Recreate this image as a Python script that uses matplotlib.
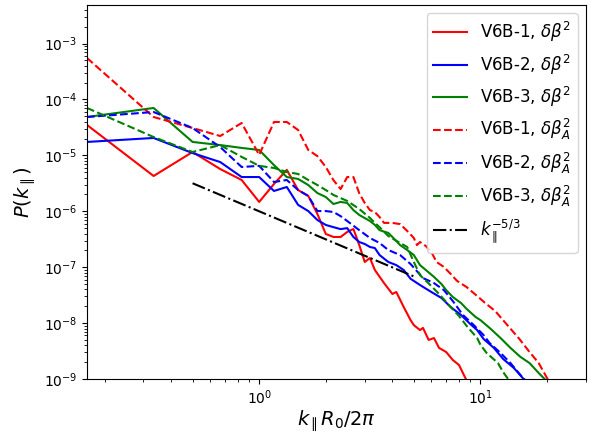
import matplotlib
matplotlib.use("Agg")
import matplotlib.pyplot as plt
import numpy as np

# wavenumber index m, with k_par R0 / 2pi = m / 6
K_UNIT = 1.0 / 6.0

# V6B-1, delta beta^2 (red solid)
m_rs = [1, 2, 3, 4, 5, 6, 7, 8, 9, 10, 11, 12, 13, 14, 15, 16, 17, 18, 19, 20,
        22, 24, 25, 27, 29, 30, 32, 33, 35, 37, 39, 42, 45, 48, 51, 54]
p_rs = [3.5e-5, 4.28e-6, 1.15e-5, 5.7e-6, 3.63e-6, 1.47e-6, 3.08e-6, 5.5e-6, 2.4e-6, 1.88e-6,
        8.95e-7, 3.93e-7, 3.47e-7, 3.47e-7, 4.27e-7, 4.82e-7, 2.49e-7, 1.24e-7, 1.46e-7, 8.9e-8,
        5.2e-8, 3.32e-8, 3.6e-8, 1.94e-8, 1.13e-8, 9.2e-9, 7.5e-9, 8.2e-9, 5.0e-9, 5.4e-9,
        3.6e-9, 3.04e-9, 2.19e-9, 1.78e-9, 1.09e-9, 7e-10]

# V6B-2, delta beta^2 (blue solid)
m_bs = [1, 2, 3, 4, 5, 6, 7, 8, 9, 10, 11, 12, 13, 14, 15, 16, 17, 18, 19, 20,
        21, 23, 25, 27, 29, 32, 36, 40, 44, 49, 54, 58, 62, 69, 76, 85, 94, 100]
p_bs = [1.74e-5, 2.05e-5, 1.1e-5, 7.6e-6, 4.1e-6, 4.1e-6, 2.31e-6, 2.72e-6, 1.3e-6, 1.01e-6,
        6.98e-7, 5.7e-7, 5.2e-7, 4.8e-7, 5.0e-7, 3.47e-7, 2.82e-7, 2.6e-7, 2.3e-7, 2.2e-7,
        1.65e-7, 1.24e-7, 1.09e-7, 8.9e-8, 6.2e-8, 4.8e-8, 3.6e-8, 2.81e-8, 1.94e-8, 1.4e-8,
        9.6e-9, 7.5e-9, 5.2e-9, 3.6e-9, 2.28e-9, 1.57e-9, 1.0e-9, 8e-10]

# V6B-3, delta beta^2 (green solid)
m_gs = [1, 2, 3, 4, 5, 6, 7, 8, 9, 10, 11, 12, 13, 14, 15, 16, 17, 19, 20, 21,
        23, 24, 26, 28, 30, 32, 34, 37, 40, 42, 45, 49, 52, 57, 60, 66, 74, 82, 91, 100,
        110, 117, 125]
p_gs = [4.86e-5, 7.05e-5, 1.74e-5, 1.53e-5, 1.36e-5, 1.25e-5, 6.7e-6, 4.1e-6, 3.79e-6, 2.95e-6,
        2.12e-6, 1.8e-6, 1.35e-6, 1.47e-6, 1.41e-6, 1.05e-6, 8.6e-7, 6.7e-7, 5.7e-7, 4.6e-7,
        4.1e-7, 3.47e-7, 2.49e-7, 2.03e-7, 1.65e-7, 1.09e-7, 8.9e-8, 6.7e-8, 5.0e-8, 3.9e-8,
        2.93e-8, 2.29e-8, 1.79e-8, 1.29e-8, 1.13e-8, 8.2e-9, 5.4e-9, 3.6e-9, 2.48e-9, 1.93e-9,
        1.28e-9, 1.0e-9, 7e-10]

# V6B-1, delta beta_A^2 (red dashed)
m_rd = [1, 2, 3, 4, 5, 6, 7, 8, 9, 10, 11, 12, 13, 14, 15, 16, 17, 18, 19, 20,
        21, 22, 24, 26, 28, 30, 31, 32, 34, 36, 38, 41, 44, 47, 52, 58, 63, 70, 80, 90,
        100, 110, 120, 130]
p_rd = [5.52e-4, 4.86e-5, 3.09e-5, 2.22e-5, 3.8e-5, 1.02e-5, 3.96e-5, 3.96e-5, 2.84e-5, 1.25e-5,
        9.7e-6, 6.2e-6, 3.6e-6, 2.5e-6, 4.1e-6, 4.1e-6, 2.1e-6, 1.41e-6, 1.05e-6, 9.7e-7,
        7.9e-7, 6.2e-7, 6.2e-7, 5.9e-7, 4.45e-7, 3.33e-7, 2.49e-7, 2.82e-7, 2.39e-7, 1.87e-7,
        1.24e-7, 1.01e-7, 7.6e-8, 5.7e-8, 4.4e-8, 3.05e-8, 2.29e-8, 1.64e-8, 8.9e-9, 5.2e-9,
        3.04e-9, 1.93e-9, 1.04e-9, 7e-10]

# V6B-2, delta beta_A^2 (blue dashed)
m_bd = [1, 2, 3, 4, 5, 6, 7, 8, 9, 10, 11, 12, 13, 14, 15, 17, 19, 21, 23, 26,
        29, 33, 37, 41, 45, 50, 56, 62, 66, 74, 82, 91, 100]
p_bd = [4.86e-5, 5.97e-5, 3.09e-5, 1.41e-5, 6.2e-6, 6.5e-6, 3.34e-6, 3.63e-6, 2.4e-6, 1.88e-6,
        1.01e-6, 1.01e-6, 9.7e-7, 8.2e-7, 6.7e-7, 4.6e-7, 3.33e-7, 2.71e-7, 2.03e-7, 1.65e-7,
        1.14e-7, 6.4e-8, 5.2e-8, 3.9e-8, 2.48e-8, 1.4e-8, 9.2e-9, 6.1e-9, 4.4e-9, 2.92e-9,
        1.93e-9, 1.18e-9, 8e-10]

# V6B-3, delta beta_A^2 (green dashed)
m_gd = [1, 2, 3, 4, 5, 6, 7, 8, 9, 10, 11, 12, 13, 15, 17, 19, 20, 21, 23, 26,
        28, 30, 32, 36, 39, 44, 48, 52, 58, 60, 64, 72, 76, 80, 85]
p_gd = [7.05e-5, 2.13e-5, 1.15e-5, 1.53e-5, 9.4e-6, 6.5e-6, 5.96e-6, 5.05e-6, 4.65e-6, 3.63e-6,
        2.95e-6, 2.4e-6, 1.96e-6, 1.53e-6, 1.1e-6, 7.6e-7, 6.2e-7, 5.2e-7, 3.61e-7, 2.71e-7,
        2.3e-7, 1.24e-7, 7.2e-8, 4.6e-8, 3.32e-8, 1.94e-8, 1.34e-8, 8.9e-9, 5.4e-9, 4.1e-9,
        2.92e-9, 1.93e-9, 1.33e-9, 1.0e-9, 7e-10]

# reference slope k^{-5/3}
ref_k = [0.5, 5.0]
ref_amp = 1e-6

series = [
    (m_rs, p_rs, 'red', '-', r'V6B-1, $\delta\beta^2$'),
    (m_bs, p_bs, 'blue', '-', r'V6B-2, $\delta\beta^2$'),
    (m_gs, p_gs, 'green', '-', r'V6B-3, $\delta\beta^2$'),
    (m_rd, p_rd, 'red', '--', r'V6B-1, $\delta\beta_A^2$'),
    (m_bd, p_bd, 'blue', '--', r'V6B-2, $\delta\beta_A^2$'),
    (m_gd, p_gd, 'green', '--', r'V6B-3, $\delta\beta_A^2$'),
]

fig = plt.figure(figsize=(5.91, 4.32), dpi=100)
ax = fig.add_axes([87 / 591, 1 - 379 / 432, (586 - 87) / 591, (379 - 5) / 432])

for m, p, c, ls, lab in series:
    k = np.array(m) * K_UNIT
    ax.plot(k, p, color=c, linestyle=ls, linewidth=1.5, label=lab)

kr = np.array(ref_k)
ax.plot(kr, ref_amp * kr ** (-5.0 / 3.0), 'k-.', linewidth=1.5,
        label=r'$k_\parallel^{-5/3}$')

ax.set_xscale('log')
ax.set_yscale('log')
ax.set_xlim(1 / 6, 30)
ax.set_ylim(1e-9, 4.9e-3)
ax.tick_params(labelsize=10)
ax.set_xlabel(r'$k_\parallel R_0/2\pi$', fontsize=14, labelpad=1)
ax.set_ylabel(r'$P(k_\parallel)$', fontsize=14)
ax.legend(loc='upper right', fontsize=12)

fig.savefig('out.png', dpi=100)
